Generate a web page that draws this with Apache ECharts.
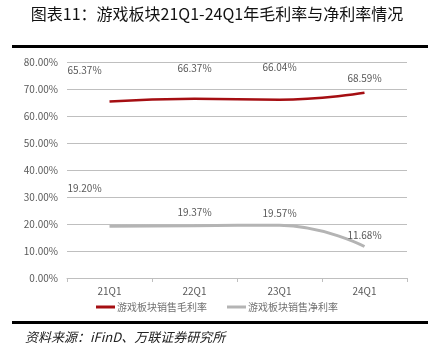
<!DOCTYPE html>
<html><head><meta charset="utf-8">
<script src="https://cdn.jsdelivr.net/npm/echarts@6/dist/echarts.min.js"></script>
<style>html,body{margin:0;padding:0;background:#fff}#c{width:434px;height:361px}</style>
</head><body><div id="c"></div>
<script>
const categories = ['21Q1', '22Q1', '23Q1', '24Q1'];
const grossMargin = [65.37, 66.37, 66.04, 68.59];
const netMargin = [19.20, 19.37, 19.57, 11.68];
const seriesNames = ['游戏板块销售毛利率', '游戏板块销售净利率'];
const titleText = '图表11：游戏板块21Q1-24Q1年毛利率与净利率情况';
const sourceText = '资料来源：iFinD、万联证券研究所';

const grossOffsets = [[-25, -26], [0, -26], [0, -27], [0, -10]];
const netOffsets = [[-25, -33], [0, -8], [0, -7], [0, -6]];
function items(vals, offs) {
  return vals.map((v, i) => ({ value: v, label: { offset: offs[i] } }));
}
const lblStyle = { show: true, position: 'top', distance: 0, color: '#595959', fontSize: 10,
  fontFamily: 'Noto Sans CJK SC', formatter: p => Number(p.value).toFixed(2) + '%' };

const chart = echarts.init(document.getElementById('c'), null, { renderer: 'canvas' });
chart.setOption({
  animation: false,
  title: { text: titleText, left: 'center', top: 1,
    textStyle: { fontFamily: 'Noto Sans CJK SC', fontSize: 16, fontWeight: 'normal', color: '#111' } },
  grid: { left: 67, right: 27, top: 62, bottom: 83 },
  legend: { bottom: 44, left: 'center', itemWidth: 19, itemHeight: 3, itemGap: 20, icon: 'rect',
    textStyle: { fontFamily: 'Noto Sans CJK SC', fontSize: 10, color: '#707070', padding: [0, 0, 0, -3] },
    data: seriesNames },
  xAxis: { type: 'category', data: categories, boundaryGap: true,
    axisLine: { lineStyle: { color: '#bfbfbf' } },
    axisTick: { show: true, lineStyle: { color: '#bfbfbf' }, length: 4 },
    axisLabel: { color: '#595959', fontSize: 10, margin: 8, fontFamily: 'Noto Sans CJK SC' } },
  yAxis: { type: 'value', min: 0, max: 80, interval: 10,
    axisLine: { show: false }, axisTick: { show: false },
    splitLine: { lineStyle: { color: '#bfbfbf', width: 1 } },
    axisLabel: { color: '#595959', fontSize: 10, margin: 9, fontFamily: 'Noto Sans CJK SC',
      formatter: v => v.toFixed(2) + '%' } },
  series: [
    { name: seriesNames[0], type: 'line', smooth: true, symbol: 'circle', symbolSize: 0, showSymbol: true,
      lineStyle: { color: '#a50e12', width: 2.5 }, itemStyle: { color: '#a50e12' },
      label: lblStyle, data: items(grossMargin, grossOffsets) },
    { name: seriesNames[1], type: 'line', smooth: true, symbol: 'circle', symbolSize: 0, showSymbol: true,
      lineStyle: { color: '#b4b4b4', width: 3 }, itemStyle: { color: '#b4b4b4' },
      label: lblStyle, data: items(netMargin, netOffsets) }
  ],
  graphic: [
    { type: 'rect', shape: { x: 12, y: 45, width: 416, height: 3 }, style: { fill: '#000' } },
    { type: 'rect', shape: { x: 12, y: 321, width: 416, height: 3 }, style: { fill: '#000' } },
    { type: 'text', left: 25, top: 331, style: { text: sourceText, fontFamily: 'Noto Sans CJK SC',
      fontSize: 13, fontStyle: 'italic', fill: '#222' } }
  ]
});
</script></body></html>
